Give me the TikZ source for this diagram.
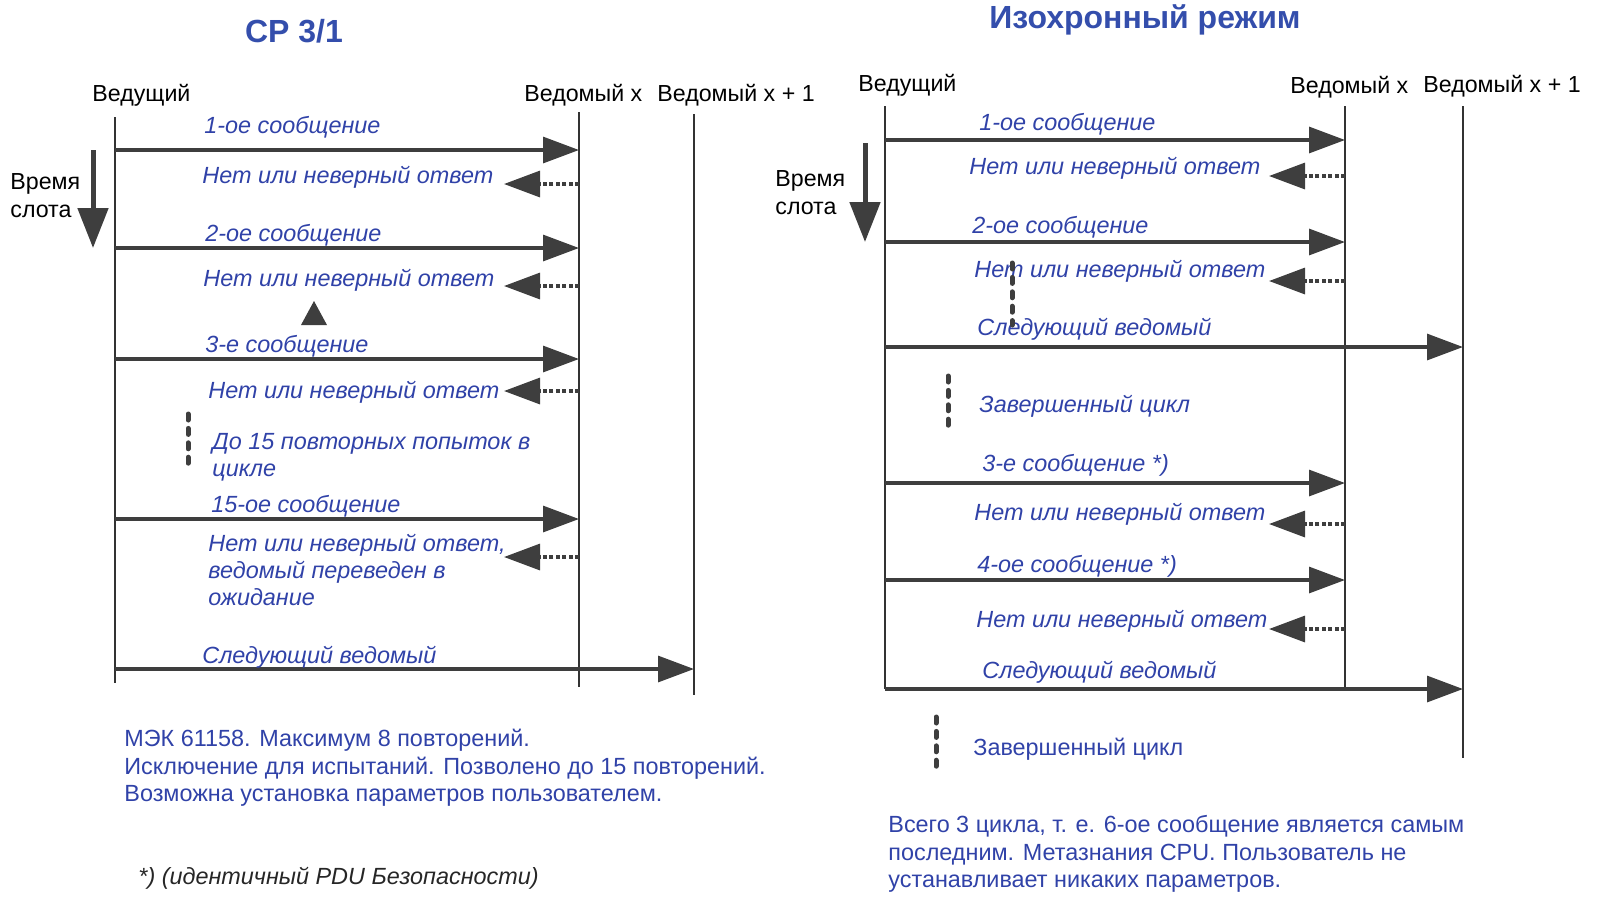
\documentclass[tikz,border=0pt]{standalone}
\usepackage{fontspec}
\setmainfont{Liberation Sans}
\usetikzlibrary{arrows.meta}
\definecolor{labelblue}{RGB}{48,66,168}
\definecolor{titleblue}{RGB}{52,78,172}
\definecolor{arrowgray}{RGB}{62,62,62}
\tikzset{
  title/.style={font=\bfseries\fontsize{16}{18}\selectfont, text=titleblue, inner sep=0pt},
  head/.style={font=\fontsize{11.6}{14}\selectfont, anchor=west, inner sep=0pt},
  lbl/.style={font=\itshape\fontsize{11.7}{13.5}\selectfont, text=labelblue, anchor=west, inner sep=0pt, align=left, yshift=-1pt},
  note/.style={font=\fontsize{11.7}{13.8}\selectfont, text=labelblue, anchor=north west, inner sep=0pt, align=left},
  lifeline/.style={draw=black!80, line width=1pt},
  msg/.style={draw=arrowgray, line width=1.6pt, -{Triangle[length=18pt, width=13pt]}},
  reply/.style={draw=arrowgray, line width=1.6pt, dash pattern=on 2pt off 1.2pt, -{Triangle[length=18pt, width=13pt]}},
  timeflow/.style={draw=arrowgray, line width=2.5pt, -{Triangle[length=20pt, width=15pt]}},
  vdots/.style={draw=arrowgray, line width=2.5pt, line cap=round, dash pattern=on 3pt off 4.2pt},
}
\begin{document}
\begin{tikzpicture}[x=0.5pt, y=-0.5pt]
  \useasboundingbox (0,0) rectangle (1602,896);

  % CP 3/1
  \node[title] (titleL) at (294,31) {CP 3/1};
  \node[head] (masterL) at (92,95) {Ведущий};
  \node[head] (slaveL) at (524,95) {Ведомый x};
  \node[head] (nextL) at (657,95) {Ведомый x + 1};
  \coordinate (masterLtop) at (115,117); \coordinate (masterLbot) at (115,683);
  \coordinate (slaveLtop) at (579,112);  \coordinate (slaveLbot) at (579,687);
  \coordinate (nextLtop) at (694,114);   \coordinate (nextLbot) at (694,695);
  \foreach \a/\b in {masterLtop/masterLbot, slaveLtop/slaveLbot, nextLtop/nextLbot} \draw[lifeline] (\a) -- (\b);

  \node[head, anchor=north west, align=left] (timeL) at (10,173) {Время\\слота};
  \coordinate (timeLa) at (93,150); \coordinate (timeLb) at (93,248);
  \draw[timeflow] (timeLa) -- (timeLb);

  \foreach \n/\y in {1/150, 2/248, 3/359, 4/519} {
    \coordinate (sendL\n) at (115,\y); \coordinate (recvL\n) at (579,\y);
    \draw[msg] (sendL\n) -- (recvL\n);
  }
  \foreach \n/\y in {1/184, 2/286, 3/391, 4/557} {
    \coordinate (backL\n) at (579,\y); \coordinate (tipL\n) at (504,\y);
    \draw[reply] (backL\n) -- (tipL\n);
  }
  \coordinate (sendL5) at (115,669); \coordinate (recvL5) at (694,669);
  \draw[msg] (sendL5) -- (recvL5);

  \node[lbl] (m1L) at (204,125) {1-ое сообщение};
  \node[lbl] (r1L) at (202,175) {Нет или неверный ответ};
  \node[lbl] (m2L) at (205,233) {2-ое сообщение};
  \node[lbl] (r2L) at (203,278) {Нет или неверный ответ};
  \node[lbl] (m3L) at (205,344) {3-е сообщение};
  \node[lbl] (r3L) at (208,390) {Нет или неверный ответ};
  \node[lbl, anchor=north west] (retryL) at (212,431) {До 15 повторных попыток в\\цикле};
  \node[lbl] (m4L) at (211,504) {15-ое сообщение};
  \node[lbl, anchor=north west] (r4L) at (208,532) {Нет или неверный ответ,\\ведомый переведен в\\ожидание};
  \node[lbl] (nxL) at (202,655) {Следующий ведомый};
  \fill[arrowgray] (314,301) -- (327,325) -- (301,325) -- cycle;
  \draw[vdots] (188,414) -- (188,467);

  \node[note] (noteL) at (124,729) {МЭК 61158. Максимум 8 повторений.\\Исключение для испытаний. Позволено до 15 повторений.\\Возможна установка параметров пользователем.};
  \node[head, font=\itshape\fontsize{11.7}{14}\selectfont, text=black!85] (footL) at (138,878) {*) (идентичный PDU Безопасности)};

  % isochronous mode
  \node[title] (titleR) at (1145,20) {Изохронный режим};
  \node[head] (masterR) at (858,85) {Ведущий};
  \node[head] (slaveR) at (1290,87) {Ведомый x};
  \node[head] (nextR) at (1423,86) {Ведомый x + 1};
  \coordinate (masterRtop) at (885,106); \coordinate (masterRbot) at (885,689);
  \coordinate (slaveRtop) at (1345,106); \coordinate (slaveRbot) at (1345,689);
  \coordinate (nextRtop) at (1463,106);  \coordinate (nextRbot) at (1463,758);
  \foreach \a/\b in {masterRtop/masterRbot, slaveRtop/slaveRbot, nextRtop/nextRbot} \draw[lifeline] (\a) -- (\b);

  \node[head, anchor=north west, align=left] (timeR) at (775,170) {Время\\слота};
  \coordinate (timeRa) at (865,143); \coordinate (timeRb) at (865,242);
  \draw[timeflow] (timeRa) -- (timeRb);

  \foreach \n/\y in {1/140, 2/242, 3/483, 4/580} {
    \coordinate (sendR\n) at (885,\y); \coordinate (recvR\n) at (1345,\y);
    \draw[msg] (sendR\n) -- (recvR\n);
  }
  \foreach \n/\y in {1/176, 2/281, 3/524, 4/629} {
    \coordinate (backR\n) at (1345,\y); \coordinate (tipR\n) at (1269,\y);
    \draw[reply] (backR\n) -- (tipR\n);
  }
  \foreach \n/\y in {5/347, 6/689} {
    \coordinate (sendR\n) at (885,\y); \coordinate (recvR\n) at (1463,\y);
    \draw[msg] (sendR\n) -- (recvR\n);
  }

  \node[lbl] (m1R) at (979,122) {1-ое сообщение};
  \node[lbl] (r1R) at (969,166) {Нет или неверный ответ};
  \node[lbl] (m2R) at (972,225) {2-ое сообщение};
  \node[lbl] (r2R) at (974,269) {Нет или неверный ответ};
  \node[lbl] (nx1R) at (977,327) {Следующий ведомый};
  \node[lbl] (cycR) at (979,404) {Завершенный цикл};
  \node[lbl] (m3R) at (982,463) {3-е сообщение *)};
  \node[lbl] (r3R) at (974,512) {Нет или неверный ответ};
  \node[lbl] (m4R) at (977,564) {4-ое сообщение *)};
  \node[lbl] (r4R) at (976,619) {Нет или неверный ответ};
  \node[lbl] (nx2R) at (982,670) {Следующий ведомый};
  \draw[vdots] (1012,263) -- (1012,325);
  \draw[vdots] (948,376) -- (948,431);
  \draw[vdots] (936,717) -- (936,771);

  \node[lbl, font=\fontsize{11.7}{14}\selectfont] (doneR) at (973,747) {Завершенный цикл};
  \node[note] (noteR) at (888,815) {Всего 3 цикла, т. е. 6-ое сообщение является самым\\последним. Метазнания CPU. Пользователь не\\устанавливает никаких параметров.};
\end{tikzpicture}
\end{document}
